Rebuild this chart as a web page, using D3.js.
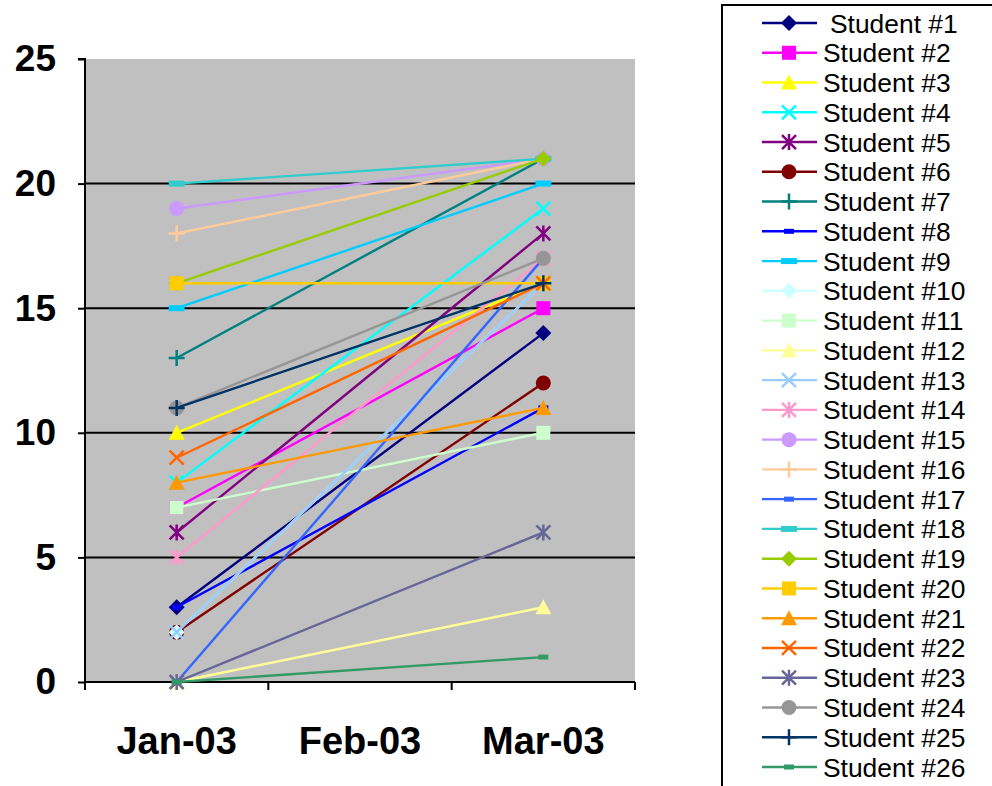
<!DOCTYPE html>
<html>
<head>
<meta charset="utf-8">
<script src="https://cdn.jsdelivr.net/npm/d3@7"></script>
<style>
  html, body { margin: 0; padding: 0; background: #fff; }
  svg { display: block; font-family: Arial, "Liberation Sans", sans-serif; }
</style>
</head>
<body>
<svg id="chart" width="992" height="786"></svg>
<script>
// Monthly scores per student (February was not recorded)
const months = ["Jan-03", "Feb-03", "Mar-03"];
const students = [
  "Student #1", "Student #2", "Student #3", "Student #4", "Student #5",
  "Student #6", "Student #7", "Student #8", "Student #9", "Student #10",
  "Student #11", "Student #12", "Student #13", "Student #14", "Student #15",
  "Student #16", "Student #17", "Student #18", "Student #19", "Student #20",
  "Student #21", "Student #22", "Student #23", "Student #24", "Student #25",
  "Student #26"
];
const janScores = [3, 7, 10, 8, 6, 2, 13, 3, 15, 2, 7, 0, 2, 5, 19, 18, 0, 20, 16, 16, 8, 9, 0, 11, 11, 0];
const febScores = new Array(26).fill(null);
const marScores = [14, 15, 16, 19, 18, 12, 21, 11, 20, 16, 10, 3, 16, 17, 21, 21, 17, 21, 21, 16, 11, 16, 6, 17, 16, 1];
const yTicks = [0, 5, 10, 15, 20, 25];

const colors = [
  "#000080", "#FF00FF", "#FFFF00", "#00FFFF", "#800080", "#800000", "#008080",
  "#0000FF", "#00CCFF", "#CCFFFF", "#CCFFCC", "#FFFF99", "#99CCFF", "#FF99CC",
  "#CC99FF", "#FFCC99", "#3366FF", "#33CCCC", "#99CC00", "#FFCC00", "#FF9900",
  "#FF6600", "#666699", "#969696", "#003366", "#339966"
];
const markerCycle = ["diamond", "square", "triangle", "x", "star", "circle", "plus", "dash", "longdash"];

const series = students.map((name, i) => ({
  name,
  color: colors[i],
  marker: markerCycle[i % markerCycle.length],
  values: [janScores[i], febScores[i], marScores[i]].map((v, j) => ({ month: months[j], v }))
}));

const svg = d3.select("#chart");
const plot = { left: 85, right: 635, top: 59, bottom: 682 };

const x = d3.scaleBand().domain(months).range([plot.left, plot.right]);
const y = d3.scaleLinear().domain([0, 25]).range([plot.bottom, plot.top]);
const cx = m => x(m) + x.bandwidth() / 2;

// plot background
svg.append("rect")
  .attr("x", plot.left).attr("y", plot.top)
  .attr("width", plot.right - plot.left).attr("height", plot.bottom - plot.top)
  .attr("fill", "#C0C0C0");

// horizontal grid
svg.append("g").selectAll("line").data(yTicks.filter(t => t > 0 && t < 25)).join("line")
  .attr("x1", plot.left).attr("x2", plot.right)
  .attr("y1", d => y(d)).attr("y2", d => y(d))
  .attr("stroke", "#000").attr("stroke-width", 2);

// y axis
const yAxis = svg.append("g")
  .attr("transform", `translate(${plot.left},0)`)
  .call(d3.axisLeft(y).tickValues(yTicks).tickSize(7).tickPadding(22));
yAxis.select(".domain").attr("stroke", "#000").attr("stroke-width", 2).attr("d", `M-7,${plot.top}H0V${plot.bottom}`);
yAxis.selectAll(".tick line").attr("stroke", "#000").attr("stroke-width", 2);
yAxis.selectAll(".tick text")
  .attr("font-size", 37).attr("font-weight", "bold").attr("fill", "#000")
  .attr("font-family", "Arial, 'Liberation Sans', sans-serif");

// x axis
const xAxis = svg.append("g")
  .attr("transform", `translate(0,${plot.bottom})`)
  .call(d3.axisBottom(x).tickSize(0).tickPadding(45));
xAxis.select(".domain").attr("stroke", "#000").attr("stroke-width", 2)
  .attr("d", `M${plot.left},0H${plot.right}`);
xAxis.selectAll(".tick text")
  .attr("font-size", 38).attr("font-weight", "bold").attr("fill", "#000")
  .attr("font-family", "Arial, 'Liberation Sans', sans-serif");
// tick marks sit on the category boundaries
const bounds = months.map(m => x(m)).concat([plot.right]);
xAxis.append("g").selectAll("line").data(bounds).join("line")
  .attr("x1", d => d).attr("x2", d => d).attr("y1", 0).attr("y2", 8)
  .attr("stroke", "#000").attr("stroke-width", 2);

// marker drawing
function drawMarker(g, type, color, size) {
  const s = size / 2;
  switch (type) {
    case "diamond":
      g.append("path").attr("d", `M0,${-s - 1}L${s + 1},0L0,${s + 1}L${-s - 1},0Z`).attr("fill", color);
      break;
    case "square":
      g.append("rect").attr("x", -s).attr("y", -s).attr("width", size).attr("height", size).attr("fill", color);
      break;
    case "triangle":
      g.append("path").attr("d", `M0,${-s - 1}L${s + 1},${s}L${-s - 1},${s}Z`).attr("fill", color);
      break;
    case "x":
      g.append("path").attr("d", `M${-s},${-s}L${s},${s}M${-s},${s}L${s},${-s}`)
        .attr("stroke", color).attr("stroke-width", 2.5).attr("fill", "none");
      break;
    case "star":
      g.append("path").attr("d", `M${-s},${-s}L${s},${s}M${-s},${s}L${s},${-s}M0,${-s - 1}V${s + 1}`)
        .attr("stroke", color).attr("stroke-width", 2.5).attr("fill", "none");
      break;
    case "circle":
      g.append("circle").attr("r", s + 0.5).attr("fill", color);
      break;
    case "plus":
      g.append("path").attr("d", `M${-s - 1},0H${s + 1}M0,${-s - 1}V${s + 1}`)
        .attr("stroke", color).attr("stroke-width", 2.5).attr("fill", "none");
      break;
    case "dash":
      g.append("rect").attr("x", -5).attr("y", -2.5).attr("width", 10).attr("height", 5).attr("fill", color);
      break;
    case "longdash":
      g.append("rect").attr("x", -8).attr("y", -3).attr("width", 16).attr("height", 6).attr("fill", color);
      break;
  }
}

// series lines and markers
const line = d3.line().defined(d => d.v !== null).x(d => cx(d.month)).y(d => y(d.v));
const lines = svg.append("g");
series.forEach(s => {
  const pts = s.values.filter(d => d.v !== null);
  const g = lines.append("g");
  g.append("path").datum(pts).attr("d", line)
    .attr("fill", "none").attr("stroke", s.color).attr("stroke-width", 2.4);
  pts.forEach(d => {
    const mg = g.append("g").attr("transform", `translate(${cx(d.month)},${y(d.v)})`);
    drawMarker(mg, s.marker, s.color, 14);
  });
});

// legend
const legend = svg.append("g");
legend.append("rect")
  .attr("x", 722).attr("y", 5).attr("width", 290).attr("height", 800)
  .attr("fill", "#fff").attr("stroke", "#000").attr("stroke-width", 2);
const rowY = d3.scaleLinear().domain([0, 25]).range([23, 767]);
series.forEach((s, i) => {
  const g = legend.append("g").attr("transform", `translate(0,${rowY(i)})`);
  g.append("line").attr("x1", 762).attr("x2", 817).attr("y1", 0).attr("y2", 0)
    .attr("stroke", s.color).attr("stroke-width", 2.4);
  const mg = g.append("g").attr("transform", "translate(789,0)");
  drawMarker(mg, s.marker, s.color, 14);
  g.append("text")
    .attr("x", i === 0 ? 830 : 823).attr("y", 0).attr("dy", "0.36em")
    .attr("font-size", 26.4).attr("fill", "#000")
    .text(s.name);
});
</script>
</body>
</html>
